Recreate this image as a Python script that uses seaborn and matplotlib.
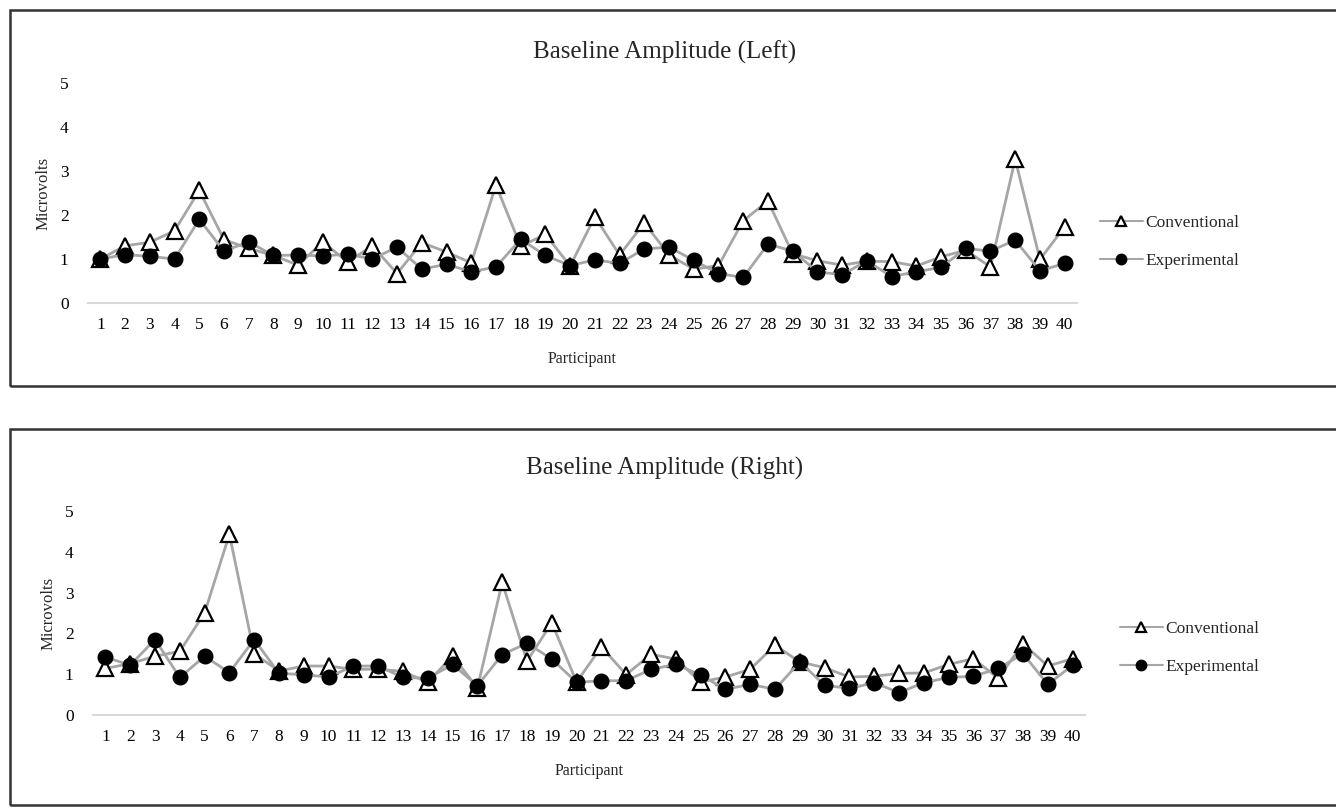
import numpy as np
import pandas as pd
import matplotlib
matplotlib.use("Agg")
import matplotlib.pyplot as plt
import matplotlib.patches as mpatches
import seaborn as sns

participants = list(range(1, 41))

left_conventional = [1.00, 1.30, 1.38, 1.64, 2.56, 1.44, 1.24, 1.08, 0.86, 1.39,
                     0.93, 1.30, 0.67, 1.37, 1.16, 0.91, 2.68, 1.29, 1.56, 0.84,
                     1.96, 1.09, 1.82, 1.09, 0.77, 0.85, 1.87, 2.32, 1.12, 0.96,
                     0.86, 0.95, 0.94, 0.84, 1.05, 1.20, 0.82, 3.27, 0.99, 1.73]
left_experimental = [1.00, 1.10, 1.06, 1.00, 1.90, 1.18, 1.39, 1.08, 1.09, 1.07,
                     1.11, 1.00, 1.27, 0.77, 0.88, 0.71, 0.82, 1.45, 1.08, 0.85,
                     0.98, 0.90, 1.23, 1.27, 0.97, 0.67, 0.58, 1.34, 1.18, 0.71,
                     0.64, 0.96, 0.60, 0.71, 0.81, 1.24, 1.18, 1.43, 0.73, 0.90]

right_conventional = [1.14, 1.26, 1.44, 1.56, 2.50, 4.43, 1.50, 1.08, 1.20, 1.20,
                      1.12, 1.12, 1.07, 0.80, 1.45, 0.66, 3.25, 1.32, 2.26, 0.81,
                      1.67, 0.99, 1.49, 1.37, 0.81, 0.93, 1.12, 1.71, 1.30, 1.16,
                      0.93, 0.95, 1.02, 1.03, 1.24, 1.38, 0.90, 1.75, 1.20, 1.38]
right_experimental = [1.42, 1.22, 1.85, 0.92, 1.44, 1.04, 1.85, 1.02, 0.99, 0.93,
                      1.20, 1.20, 0.92, 0.90, 1.24, 0.72, 1.48, 1.76, 1.37, 0.80,
                      0.84, 0.84, 1.12, 1.24, 0.98, 0.63, 0.75, 0.63, 1.30, 0.73,
                      0.65, 0.79, 0.55, 0.79, 0.92, 0.95, 1.14, 1.50, 0.75, 1.22]

yticks = [0, 1, 2, 3, 4, 5]

sns.set_theme(style="white")
plt.rcParams['font.family'] = ['Liberation Serif', 'DejaVu Serif']

W, H = 1336, 807
fig = plt.figure(figsize=(W / 100, H / 100), dpi=100)
fig.patch.set_facecolor("white")

line_col = "#a6a6a6"


def px_axes(x0, y_top, x1, y_bottom):
    return fig.add_axes([x0 / W, 1 - y_bottom / H, (x1 - x0) / W, (y_bottom - y_top) / H])


def draw_panel(ax, title, title_y, conv, expe, legend_xy):
    df = pd.DataFrame({"Participant": participants,
                       "Conventional": conv,
                       "Experimental": expe})
    sns.lineplot(data=df, x="Participant", y="Conventional", ax=ax, color=line_col,
                 lw=2, marker="^", markersize=11, markerfacecolor="white",
                 markeredgecolor="black", markeredgewidth=1.6, label="Conventional")
    sns.lineplot(data=df, x="Participant", y="Experimental", ax=ax, color=line_col,
                 lw=2, marker="o", markersize=10.5, markerfacecolor="black",
                 markeredgecolor="black", markeredgewidth=1, label="Experimental")
    ax.set_xlim(0.5, 40.5)
    ax.set_ylim(0, 5)
    ax.set_xticks(participants)
    ax.set_xticklabels([str(p) for p in participants])
    ax.set_yticks(yticks)
    ax.tick_params(axis="both", length=0, labelsize=12.5, colors="black")
    ax.tick_params(axis="x", pad=10)
    ax.tick_params(axis="y", pad=14)
    for s in ["top", "right", "left"]:
        ax.spines[s].set_visible(False)
    ax.spines["bottom"].set_color("#d9d9d9")
    ax.spines["bottom"].set_linewidth(1.5)
    fig.text(665 / W, 1 - title_y / H, title, fontsize=18, ha="center", va="center")
    ax.set_xlabel("Participant", fontsize=11.5, labelpad=13)
    ax.set_ylabel("Microvolts", fontsize=12, labelpad=6)
    ax.set_facecolor("white")
    leg = ax.legend(loc="center left", bbox_to_anchor=legend_xy,
                    bbox_transform=fig.transFigure, frameon=False, fontsize=12.5,
                    handlelength=2.5, handletextpad=0.15, labelspacing=1.3)
    for h in leg.legend_handles:
        h.set_markersize(7.5)
        h.set_linewidth(1.5)


ax1 = px_axes(88, 83, 1077, 303)
draw_panel(ax1, "Baseline Amplitude (Left)", 52, left_conventional, left_experimental,
           (1084 / W, 1 - 242 / H))

ax2 = px_axes(93, 511, 1085, 715)
draw_panel(ax2, "Baseline Amplitude (Right)", 468, right_conventional, right_experimental,
           (1104 / W, 1 - 648 / H))

# outer frames around each panel
for (yt, yb) in [(10, 386), (429, 805)]:
    rect = mpatches.Rectangle((10 / W, 1 - yb / H), 1.2, (yb - yt) / H,
                              transform=fig.transFigure, fill=False,
                              edgecolor="#333333", lw=1.8, clip_on=False)
    fig.add_artist(rect)

fig.savefig("out.png", dpi=100, facecolor="white")
